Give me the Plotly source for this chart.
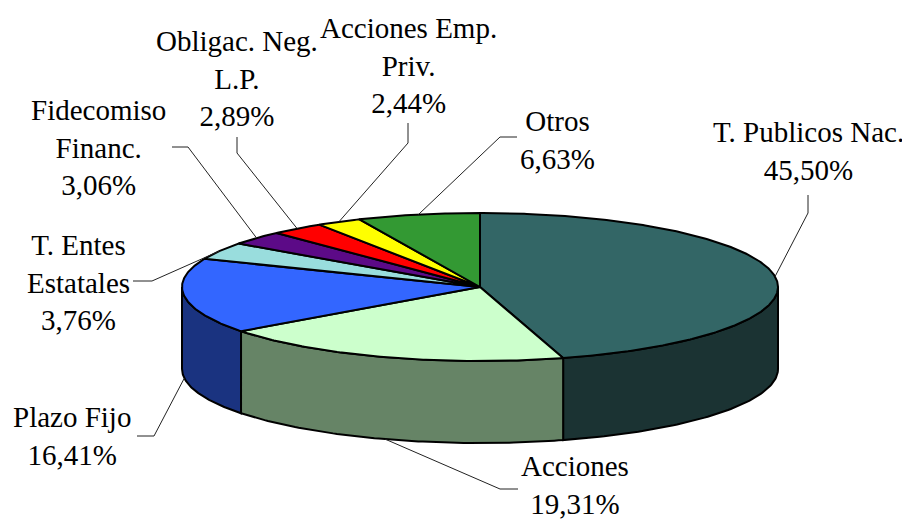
import numpy as np
import plotly.graph_objects as go

# ---- data ----
categories = ["T. Publicos Nac.", "Acciones", "Plazo Fijo", "T. Entes Estatales",
              "Fidecomiso Financ.", "Obligac. Neg. L.P.", "Acciones Emp. Priv.", "Otros"]
values = [45.50, 19.31, 16.41, 3.76, 3.06, 2.89, 2.44, 6.63]
label_names = ["T. Publicos Nac.", "Acciones", "Plazo Fijo", "T. Entes<br>Estatales",
               "Fidecomiso<br>Financ.", "Obligac. Neg.<br>L.P.", "Acciones Emp.<br>Priv.", "Otros"]
top_colors = ["#336666", "#ccffcc", "#3366ff", "#99dddd", "#5c0a87", "#ff0000", "#ffff00", "#339933"]
side_colors = ["#1b3333", "#668466", "#1a3380", "#4c6e6e", "#2e0544", "#800000", "#808000", "#1a4d1a"]

# label layout (centre of text block) and leader elbows / ends (window pixels)
label_pos = [(808, 151), (575, 485), (72, 436), (78, 282), (98, 147), (237, 78), (408, 65), (557, 140)]
leader_elbow = [(808, 213), (500, 489), (154, 436), (152, 281), (188, 147), (237, 153), (408, 143), (500, 137)]
leader_end = [(808, 195), (518, 489), (137, 436), (133, 281), (172, 147), (237, 137), (408, 123), (517, 137)]

# ---- geometry of the tilted pie ----
CX, CY, RX, RY, DEPTH = 480.0, 287.0, 298.0, 74.0, 82.0
OFF = 8  # page body margin


def pt(theta_deg, dz=0.0):
    t = np.radians(theta_deg)
    return CX + RX * np.sin(t), CY - RY * np.cos(t) + dz


fig = go.Figure()
total = sum(values)
bounds = np.concatenate([[0], np.cumsum(values)]) / total * 360.0
line_style = dict(color="black", width=2)

# side walls (front half only: 90..270 degrees clockwise from top)
for i in range(len(values)):
    a, b = max(bounds[i], 90.0), min(bounds[i + 1], 270.0)
    if b <= a:
        continue
    th = np.linspace(a, b, 80)
    xt, yt = pt(th)
    xb, yb = pt(th[::-1], DEPTH)
    xs = np.concatenate([xt, xb, xt[:1]])
    ys = np.concatenate([yt, yb, yt[:1]])
    fig.add_trace(go.Scatter(x=xs, y=ys, mode="lines", fill="toself",
                             fillcolor=side_colors[i], line=line_style,
                             hoverinfo="skip", showlegend=False))

# top faces
for i in range(len(values)):
    a, b = bounds[i], bounds[i + 1]
    n = max(int((b - a) * 2), 8)
    th = np.linspace(a, b, n)
    xt, yt = pt(th)
    xs = np.concatenate([[CX], xt, [CX]])
    ys = np.concatenate([[CY], yt, [CY]])
    fig.add_trace(go.Scatter(x=xs, y=ys, mode="lines", fill="toself",
                             fillcolor=top_colors[i], line=line_style,
                             hoverinfo="text", text=categories[i], showlegend=False))

# leader lines and labels
for i in range(len(values)):
    mid = (bounds[i] + bounds[i + 1]) / 2
    dz = DEPTH if 90 < mid < 270 else 0.0
    px, py = pt(mid, dz)
    ex, ey = leader_elbow[i]
    tx, ty = leader_end[i]
    fig.add_trace(go.Scatter(x=[px, ex, tx], y=[py, ey, ty], mode="lines",
                             line=dict(color="#222222", width=1),
                             hoverinfo="skip", showlegend=False))
    pct = f"{values[i]:.2f}".replace(".", ",") + "%"
    fig.add_annotation(x=label_pos[i][0], y=label_pos[i][1], xref="x", yref="y",
                       text=label_names[i] + "<br>" + pct, showarrow=False,
                       xanchor="center", yanchor="middle", align="center",
                       font=dict(family="Liberation Serif", size=29, color="black"))

fig.update_layout(
    width=910 - OFF, height=523 - OFF,
    margin=dict(l=0, r=0, t=0, b=0),
    paper_bgcolor="white", plot_bgcolor="white",
    xaxis=dict(range=[OFF, 910], visible=False, fixedrange=True),
    yaxis=dict(range=[523, OFF], visible=False, fixedrange=True),
)
fig.write_html("out.html")
